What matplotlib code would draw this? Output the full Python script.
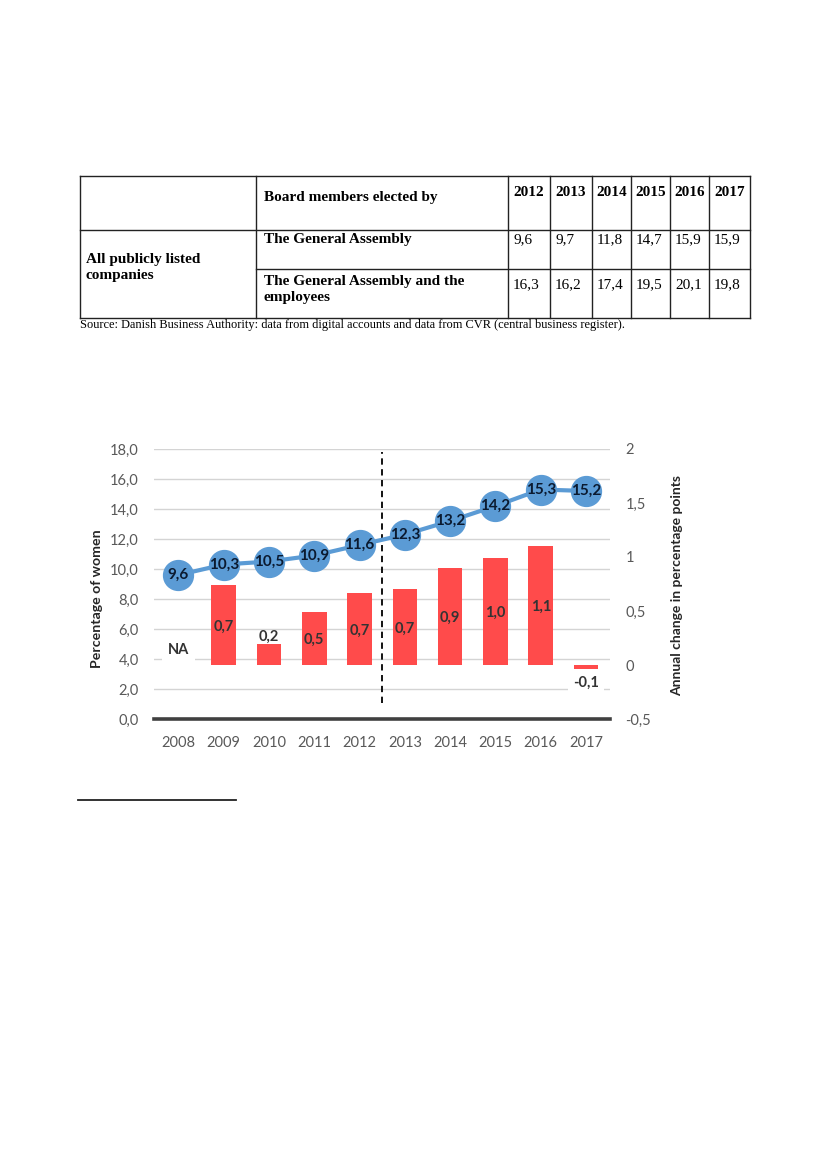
import matplotlib
matplotlib.use("Agg")
import matplotlib.pyplot as plt

# table at top of the page
table_years = ["2012", "2013", "2014", "2015", "2016", "2017"]
general_assembly = [9.6, 9.7, 11.8, 14.7, 15.9, 15.9]
assembly_and_employees = [16.3, 16.2, 17.4, 19.5, 20.1, 19.8]

# chart
years = ["2008", "2009", "2010", "2011", "2012", "2013", "2014", "2015", "2016", "2017"]
share_women = [9.6, 10.3, 10.5, 10.9, 11.6, 12.3, 13.2, 14.2, 15.3, 15.2]
change_years = ["2009", "2010", "2011", "2012", "2013", "2014", "2015", "2016", "2017"]
annual_change = [0.74, 0.19, 0.49, 0.67, 0.70, 0.90, 0.99, 1.10, -0.04]
change_labels = ["0,7", "0,2", "0,5", "0,7", "0,7", "0,9", "1,0", "1,1", "-0,1"]
left_ticks = [0, 2, 4, 6, 8, 10, 12, 14, 16, 18]
right_ticks = [-0.5, 0, 0.5, 1, 1.5, 2]


def comma(v, digits=1):
    return f"{v:.{digits}f}".replace(".", ",")


BLUE = "#5B9BD5"
RED = "#FF4B4B"
GREY = "#595959"
SERIF = "Liberation Serif"
SANS = "Lato"
TFS = 11  # table font size

fig = plt.figure(figsize=(8.27, 11.69), dpi=100)

# page axes in pixel coordinates for the table and the rules
page = fig.add_axes([0, 0, 1, 1])
page.set_xlim(0, 827)
page.set_ylim(1169, 0)
page.axis("off")

col_x = [80, 256, 508, 550, 592, 631, 670, 709, 750]
row_y = [176, 230, 269, 318]
lc = "#222222"
for y in (row_y[0], row_y[1], row_y[3]):
    page.plot([col_x[0], col_x[-1]], [y, y], color=lc, lw=1)
page.plot([col_x[1], col_x[-1]], [row_y[2], row_y[2]], color=lc, lw=1)
for x in col_x:
    page.plot([x, x], [row_y[0], row_y[3]], color=lc, lw=1)

page.text(264, 197, "Board members elected by", family=SERIF, weight="bold",
          fontsize=TFS, va="center")
page.text(86, 268, "All publicly listed\ncompanies", family=SERIF, weight="bold",
          fontsize=TFS, va="center", linespacing=1.3)
page.text(264, 240, "The General Assembly", family=SERIF, weight="bold",
          fontsize=TFS, va="center")
page.text(264, 289, "The General Assembly and the\nemployees", family=SERIF,
          weight="bold", fontsize=TFS, va="center", linespacing=1.3)
for i, yr in enumerate(table_years):
    x0, x1 = col_x[2 + i], col_x[3 + i]
    page.text((x0 + x1) / 2, 192, yr, family=SERIF, weight="bold", fontsize=TFS,
              ha="center", va="center")
    page.text(x0 + 5, 240, comma(general_assembly[i]), family=SERIF,
              fontsize=TFS, va="center")
    page.text(x0 + 5, 285, comma(assembly_and_employees[i]), family=SERIF,
              fontsize=TFS, va="center")

page.text(80, 325, "Source: Danish Business Authority: data from digital accounts and "
          "data from CVR (central business register).", family=SERIF, fontsize=8.9,
          va="center")

# footnote rule
page.plot([78, 236], [800, 800], color="#222222", lw=1.3)

# chart axes
ax = fig.add_axes([154 / 827, 1 - 719 / 1169, 456 / 827, 270 / 1169])
ax2 = ax.twinx()
x = list(range(len(years)))
ax.set_xlim(-0.54, 9.53)
ax.set_ylim(0, 18)
ax2.set_ylim(-0.5, 2)

ax.set_yticks(left_ticks)
ax.set_yticklabels([comma(v) for v in left_ticks])
ax2.set_yticks(right_ticks)
ax2.set_yticklabels([comma(v) if v % 1 else str(int(v)) for v in right_ticks])
ax.set_xticks(x)
ax.set_xticklabels(years)

for a in (ax, ax2):
    for s in a.spines.values():
        s.set_visible(False)
ax.tick_params(axis="both", length=0, labelsize=10.5, labelcolor=GREY)
ax.tick_params(axis="y", pad=11)
ax.tick_params(axis="x", pad=12)
ax2.tick_params(axis="y", length=0, labelsize=10.5, labelcolor=GREY, pad=11)
for lab in ax.get_xticklabels() + ax.get_yticklabels() + ax2.get_yticklabels():
    lab.set_family(SANS)

ax.yaxis.grid(True, color="#d4d4d4", lw=1)
ax.set_axisbelow(True)
ax.axhline(0, color="#404040", lw=2.6, clip_on=False, zorder=3)

# bars on the right scale
bx = [years.index(y) for y in change_years]
ax2.bar(bx, annual_change, width=0.545, color=RED, zorder=2)
for xi, h, lab in zip(bx, annual_change, change_labels):
    if h < 0:
        ax2.text(xi, h - 0.06, lab, ha="center", va="top", fontsize=10.5,
                 weight="bold", color="#333333", family=SANS,
                 bbox=dict(fc="white", ec="none", pad=3.5), zorder=4)
    elif h < 0.3:
        ax2.text(xi, h + 0.005, lab, ha="center", va="bottom", fontsize=10.5,
                 weight="bold", color="#333333", family=SANS, zorder=4)
    else:
        ax2.text(xi, h / 2 - 0.015, lab, ha="center", va="center", fontsize=10.5,
                 weight="bold", color="#333333", family=SANS, zorder=4)
ax2.text(0, 0.14, "NA", ha="center", va="center", fontsize=10.5, weight="bold",
         color="#333333", family=SANS, bbox=dict(fc="white", ec="none", pad=4.5),
         zorder=4)

# dashed divider between 2012 and 2013
ax2.axvline(4.5, ymin=0.06, ymax=0.99, color="black", lw=1.3,
            ls=(0, (3.5, 2.5)), zorder=3)

# line on the left scale, drawn in front of the bars
ax2.plot(x, share_women, color=BLUE, lw=3, marker="o", markersize=21.5,
         transform=ax.transData, zorder=5, clip_on=False)
for xi, v in zip(x, share_women):
    ax2.text(xi, v, comma(v), transform=ax.transData, ha="center", va="center",
             fontsize=11, weight="bold", color="#0b1a30", family=SANS, zorder=6)

fig.text(97 / 827, 1 - 599 / 1169, "Percentage of women", rotation=90,
         ha="center", va="center", fontsize=10.2, weight="bold", color="#262626",
         family=SANS)
fig.text(677 / 827, 1 - 585 / 1169, "Annual change in percentage points",
         rotation=90, ha="center", va="center", fontsize=10, weight="bold",
         color="#262626", family=SANS)

fig.savefig("out.png", dpi=100)
